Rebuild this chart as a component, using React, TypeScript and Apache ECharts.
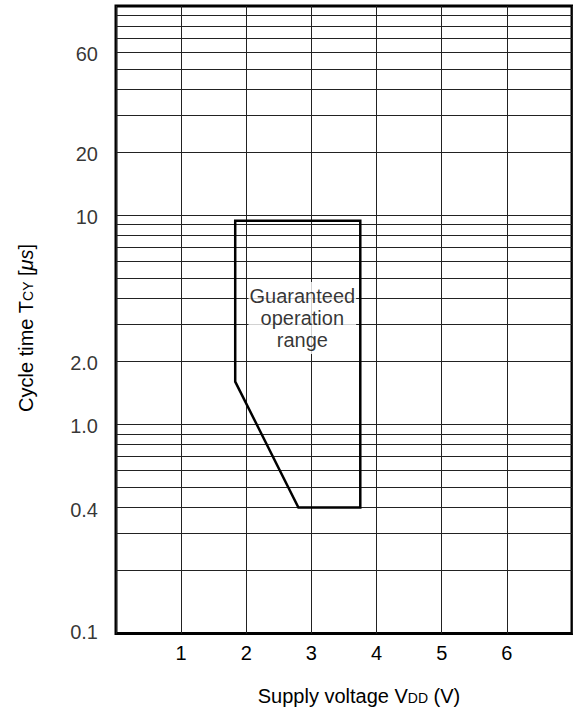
import React, { useEffect, useRef } from 'react';
import * as echarts from 'echarts';

const FONT = "'Liberation Sans', Arial, Helvetica, sans-serif";

// x axis: supply voltage (V)
const xTicks = [1, 2, 3, 4, 5, 6];
// y axis: cycle time (µs), log scale
const yTickValues = [60, 20, 10, 2, 1, 0.4, 0.1];
const yTickLabels = ['60', '20', '10', '2.0', '1.0', '0.4', '0.1'];
const yGridValues = [
  0.2, 0.3, 0.4, 0.5, 0.6, 0.7, 0.8, 0.9,
  1, 2, 3, 4, 5, 6, 7, 8, 9,
  10, 20, 30, 40, 50, 60, 70, 80, 90,
];
// guaranteed operation range outline (closed polygon)
const rangeVoltage = [1.83, 1.83, 2.8, 3.75, 3.75, 1.83];
const rangeCycle = [9.4, 1.6, 0.4, 0.4, 9.4, 9.4];
// annotation
const annotationPos = [2.86, 3.22];
const annotationText = 'Guaranteed\noperation\nrange';

export default function App() {
  const ref = useRef<HTMLDivElement>(null);
  useEffect(() => {
    if (!ref.current) return;
    const chart = echarts.init(ref.current, null, { renderer: 'svg' });
    const yMin = 0.1;
    const option: any = {
      animation: false,
      backgroundColor: '#fff',
      grid: {
        left: 116,
        right: 1,
        top: 6,
        bottom: 77.5,
        show: true,
        borderColor: '#000',
        borderWidth: 3,
        backgroundColor: 'transparent',
        containLabel: false,
        outerBoundsMode: 'none',
      },
      xAxis: {
        type: 'value',
        min: 0,
        max: 7,
        interval: 1,
        axisLine: { show: false },
        axisTick: { show: false },
        splitLine: { show: true, lineStyle: { color: '#222', width: 1 } },
        axisLabel: {
          formatter: (v: number) => (xTicks.includes(v) ? String(v) : ''),
          fontSize: 20,
          color: '#000',
          margin: 9,
          fontFamily: FONT,
        },
      },
      yAxis: {
        type: 'log',
        logBase: 10,
        min: yMin,
        max: 100,
        axisLine: { show: false },
        axisTick: { show: false },
        splitLine: { show: false },
        axisLabel: { show: false },
      },
      series: [
        {
          type: 'line',
          data: rangeVoltage.map((x, i) => [x, rangeCycle[i]]),
          symbol: 'none',
          silent: true,
          z: 5,
          lineStyle: { color: '#000', width: 2.5, cap: 'square', join: 'miter' },
          markLine: {
            silent: true,
            symbol: ['none', 'none'],
            label: { show: false },
            z: 1,
            lineStyle: { color: '#222', width: 1, type: 'solid' },
            data: yGridValues.map((v) => ({ yAxis: v })),
          },
        },
        {
          type: 'scatter',
          data: yTickValues.map((v) => ({
            value: [0, v],
            label: { offset: [0, v === yMin ? -2 : 2] },
          })),
          symbolSize: 0,
          clip: false,
          silent: true,
          itemStyle: { color: 'transparent' },
          label: {
            show: true,
            position: 'left',
            distance: 18,
            formatter: (p: any) => yTickLabels[p.dataIndex],
            fontSize: 20,
            color: '#000',
            fontFamily: FONT,
          },
        },
        {
          type: 'scatter',
          data: [annotationPos],
          symbolSize: 0,
          silent: true,
          z: 4,
          itemStyle: { color: 'transparent' },
          label: {
            show: true,
            position: 'inside',
            formatter: annotationText,
            fontSize: 20,
            lineHeight: 22,
            color: '#000',
            fontFamily: FONT,
            align: 'center',
            backgroundColor: '#fff',
            padding: [3, 1],
          },
        },
      ],
      graphic: [
        {
          type: 'text',
          x: 359,
          y: 696.4,
          silent: true,
          style: {
            text: '{a|Supply voltage V}{b|DD}{a| (V)}',
            align: 'center',
            verticalAlign: 'middle',
            fill: '#000',
            rich: {
              a: { fontSize: 20, lineHeight: 24, fontFamily: FONT, fill: '#000' },
              b: { fontSize: 14, lineHeight: 20, verticalAlign: 'bottom', padding: [0, 0, 3, 0], fontFamily: FONT, fill: '#000' },
            },
          },
        },
        {
          type: 'text',
          x: 26.4,
          y: 328,
          rotation: Math.PI / 2,
          silent: true,
          style: {
            text: '{a|Cycle time T}{b|CY}{a| [}{i|μs}{a|]}',
            align: 'center',
            verticalAlign: 'middle',
            fill: '#000',
            rich: {
              a: { fontSize: 20, lineHeight: 24, fontFamily: FONT, fill: '#000' },
              b: { fontSize: 14, lineHeight: 20, verticalAlign: 'bottom', padding: [0, 0, 3, 0], fontFamily: FONT, fill: '#000' },
              i: { fontSize: 20, lineHeight: 24, fontStyle: 'italic', fontFamily: FONT, fill: '#000' },
            },
          },
        },
      ],
    };
    chart.setOption(option);
    return () => chart.dispose();
  }, []);
  return (
    <div
      ref={ref}
      style={{ position: 'absolute', left: 0, top: 0, width: 573, height: 711 }}
    />
  );
}
